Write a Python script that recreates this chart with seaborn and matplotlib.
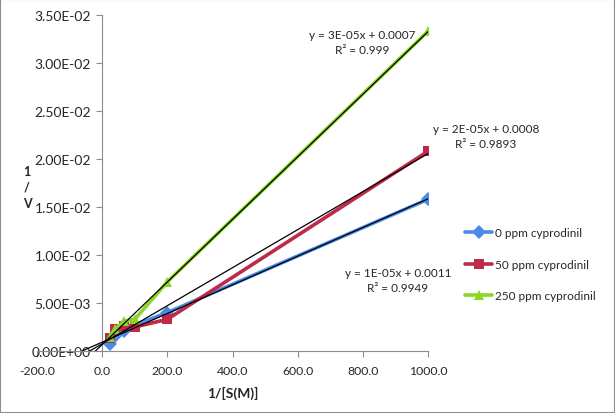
import matplotlib
matplotlib.use("Agg")
import matplotlib.pyplot as plt
from matplotlib.patches import Rectangle
import numpy as np
import pandas as pd
import seaborn as sns

# 1/[S] values and 1/v readings per cyprodinil level
inv_s = [25.0, 40.0, 66.7, 100.0, 200.0, 1000.0]
v_0ppm = [0.0007, 0.0016, 0.0021, 0.0027, 0.0040, 0.0158]
v_50ppm = [0.0014, 0.0023, 0.0026, 0.0025, 0.0033, 0.0208]
v_250ppm = [0.0015, 0.0023, 0.0031, 0.0033, 0.0072, 0.0333]

series_names = ["0 ppm cyprodinil", "50 ppm cyprodinil", "250 ppm cyprodinil"]
series_values = [v_0ppm, v_50ppm, v_250ppm]
colors = ["#4a8ae8", "#be2a48", "#8bd626"]
markers = ["D", "s", "^"]

fit_texts = [
    "y = 1E-05x + 0.0011\nR² = 0.9949",
    "y = 2E-05x + 0.0008\nR² = 0.9893",
    "y = 3E-05x + 0.0007\nR² = 0.999",
]
fit_text_pos = [(398, 281), (486, 137), (362, 43)]  # pixel centres

x_ticks = [-200, 0, 200, 400, 600, 800, 1000]
y_ticks = [0, 0.005, 0.010, 0.015, 0.020, 0.025, 0.030, 0.035]

df = pd.concat(
    [pd.DataFrame({"x": inv_s, "y": vals, "series": name})
     for name, vals in zip(series_names, series_values)],
    ignore_index=True,
)

sns.set_style("white")
plt.rcParams["font.family"] = ["Lato", "DejaVu Sans"]

W, H = 615, 414
fig = plt.figure(figsize=(W / 100, H / 100), dpi=100)
ax = fig.add_axes([37 / W, 1 - 352 / H, (428 - 37) / W, (352 - 16) / H])

sns.lineplot(
    data=df, x="x", y="y", hue="series", style="series",
    palette=dict(zip(series_names, colors)),
    markers=dict(zip(series_names, markers)),
    dashes=False, markersize=7, markeredgewidth=0,
    linewidth=2.6, sort=True, ax=ax,
)

# linear trendlines with backward forecast
xs = np.array([-200.0, 1000.0])
for vals in series_values:
    slope, intercept = np.polyfit(inv_s, vals, 1)
    ax.plot(xs, slope * xs + intercept, color="black", lw=0.9, zorder=5)

ax.set_xlim(-200, 1000)
ax.set_ylim(0, 0.035)
ax.set_xticks(x_ticks)
ax.set_yticks(y_ticks)
ax.set_xticklabels([f"{v:.1f}" for v in x_ticks], fontsize=8.8)
ax.set_yticklabels([f"{v:.2E}" for v in y_ticks], fontsize=8.5)

for s in ["top", "right"]:
    ax.spines[s].set_visible(False)
ax.spines["left"].set_position(("data", 0))
ax.spines["left"].set_color("#8c8c8c")
ax.spines["bottom"].set_color("#8c8c8c")
ax.tick_params(axis="both", direction="out", length=4, width=0.8,
               color="#8c8c8c", left=True, bottom=True)
ax.tick_params(axis="y", pad=4)
ax.tick_params(axis="x", pad=6)

ax.set_xlabel("1/[S(M)]", fontsize=10, fontweight="bold", labelpad=7)
ax.set_ylabel("")
fig.text(27 / W, 1 - 188 / H, "1\n/\nV", ha="center", va="center",
         fontsize=9, fontweight="bold", linespacing=1.4)

handles, labels = ax.get_legend_handles_labels()
ax.legend(handles, labels, loc="upper left", bbox_to_anchor=(465 / W, 1 - 228 / H),
          bbox_transform=fig.transFigure, frameon=False, fontsize=8.5,
          labelspacing=1.75, handlelength=2.3, handletextpad=0.2,
          borderpad=0, borderaxespad=0, title=None)

for txt, (px, py) in zip(fit_texts, fit_text_pos):
    fig.text(px / W, 1 - py / H, txt, ha="center", va="center",
             fontsize=8.5, linespacing=1.45)

fig.patches.append(Rectangle((0, 0), 1, 1, transform=fig.transFigure,
                             fill=False, edgecolor="#8c8c8c", lw=1.5))

fig.savefig("out.png", dpi=100)
